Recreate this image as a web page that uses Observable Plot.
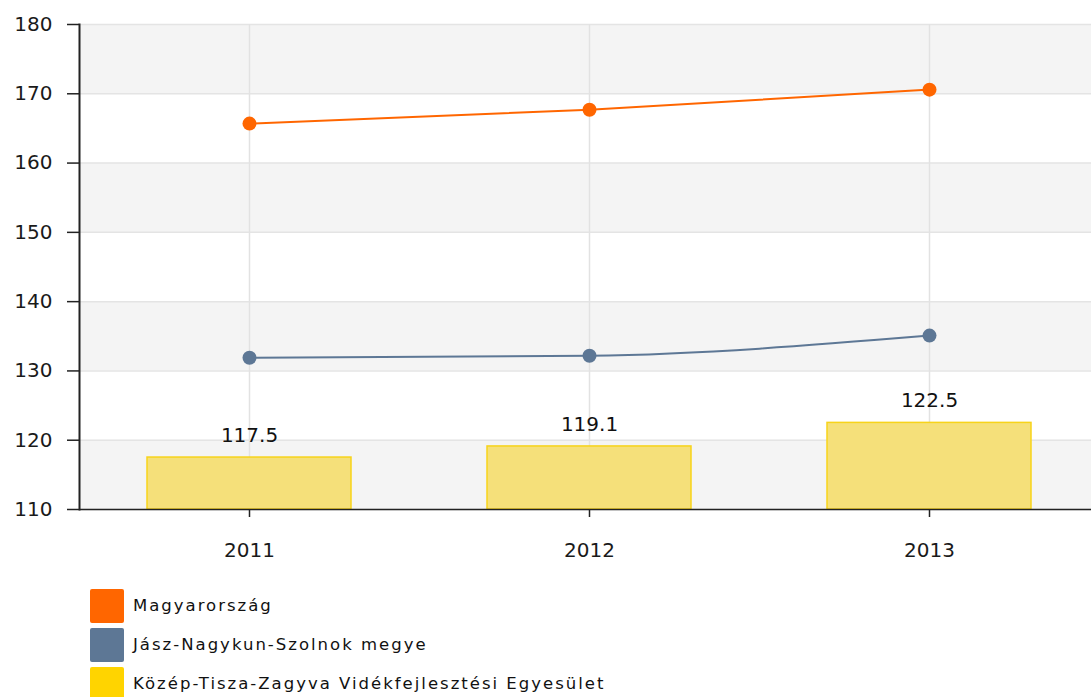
<!DOCTYPE html>
<html>
<head>
<meta charset="utf-8">
<script src="https://cdn.jsdelivr.net/npm/d3@7"></script>
<script src="https://cdn.jsdelivr.net/npm/@observablehq/plot@0.6"></script>
<style>
  body { margin: 0; background: #fff; font-family: "DejaVu Sans", Verdana, sans-serif; }
  #legend { padding-left: 90px; }
  .item { display: flex; align-items: center; height: 39px; font-size: 16.5px; letter-spacing: 2px; color: #111; }
  .sw { width: 34px; height: 34px; margin-right: 9px; border-radius: 2px; }
</style>
</head>
<body>
<div id="chart"></div>
<div id="legend"></div>
<script>
const years = ["2011", "2012", "2013"];
const seriesNames = ["Magyarország", "Jász-Nagykun-Szolnok megye", "Közép-Tisza-Zagyva Vidékfejlesztési Egyesület"];
const seriesColors = ["#ff6600", "#5d7795", "#ffd400"];
const hungary = [165.7, 167.7, 170.6];
const county = [131.9, 132.2, 135.1];
const association = [117.5, 119.1, 122.5];
const yTicks = [110, 120, 130, 140, 150, 160, 170, 180];
const shadedBands = [[110, 120], [130, 140], [150, 160], [170, 180]];

const lineData = [
  ...years.map((y, i) => ({year: y, value: hungary[i], s: seriesNames[0]})),
  ...years.map((y, i) => ({year: y, value: county[i], s: seriesNames[1]}))
];
const barData = years.map((y, i) => ({year: y, value: association[i]}));
const bandData = shadedBands.map(([a, b]) => ({y1: a, y2: b}));

const chart = Plot.plot({
  width: 1091,
  height: 586,
  marginTop: 24,
  marginBottom: 77,
  marginLeft: 79,
  marginRight: 0,
  style: {fontFamily: "DejaVu Sans, Verdana, sans-serif", fontSize: "20px", color: "#1a1a1a", background: "#fff"},
  x: {type: "band", domain: years, range: [79, 1099], paddingInner: 0.4, paddingOuter: 0.2, label: null},
  y: {domain: [110, 180], label: null},
  color: {domain: seriesNames, range: seriesColors},
  marks: [
    Plot.rect(bandData, {y1: "y1", y2: "y2", fill: "#f4f4f4"}),
    Plot.ruleY(yTicks, {stroke: "#e4e4e4", strokeWidth: 1.5}),
    Plot.ruleX(years, {x: d => d, stroke: "#e2e2e2", strokeWidth: 1.5}),
    Plot.barY(barData, {x: "year", y1: 110, y2: "value", fill: "#f5e07a", stroke: "#f7d31a", strokeWidth: 1.5}),
    Plot.text(barData, {x: "year", y: "value", text: d => d.value.toFixed(1), dy: -22, fontSize: 20, fill: "#111"}),
    Plot.line(lineData, {x: "year", y: "value", z: "s", stroke: d => d.s, strokeWidth: 2, curve: "monotone-x"}),
    Plot.dot(lineData, {x: "year", y: "value", fill: d => d.s, r: 7}),
    Plot.ruleY([110], {stroke: "#222", strokeWidth: 1.5}),
    Plot.axisY({ticks: yTicks, tickSize: 12, tickPadding: 15, tickFormat: d => String(d), stroke: "#222", strokeWidth: 1.5}),
    Plot.axisX({tickSize: 8, tickPadding: 25, stroke: "#222", strokeWidth: 1.5}),
    Plot.frame({anchor: "left", stroke: "#222", strokeWidth: 2})
  ]
});
document.getElementById("chart").append(chart);

const legend = document.getElementById("legend");
seriesNames.forEach((name, i) => {
  const row = document.createElement("div");
  row.className = "item";
  const sw = document.createElement("div");
  sw.className = "sw";
  sw.style.background = seriesColors[i];
  const label = document.createElement("span");
  label.textContent = name;
  row.append(sw, label);
  legend.append(row);
});
</script>
</body>
</html>
